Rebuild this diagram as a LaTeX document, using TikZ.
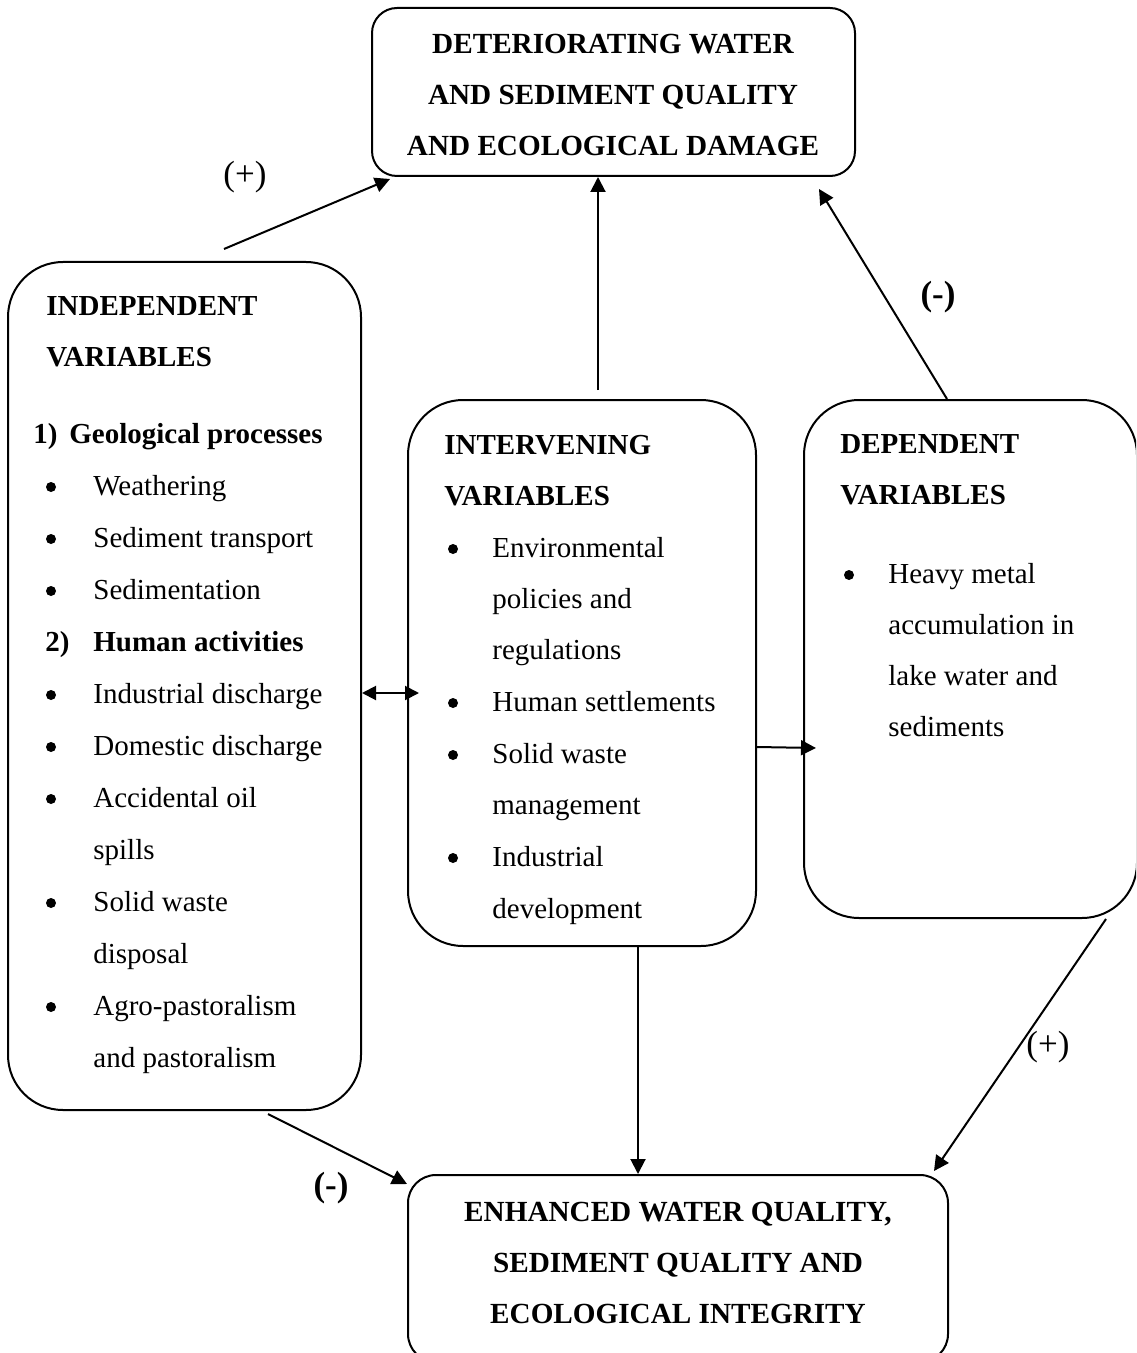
\documentclass[tikz,border=0pt]{standalone}
\usepackage{fontspec}
\setmainfont{Liberation Serif}
\usetikzlibrary{arrows.meta}
\begin{document}
\begin{tikzpicture}[x=0.5pt,y=-0.5pt,
  box/.style={draw, line width=1pt, inner sep=0pt, rounded corners=27.5pt},
  txt/.style={inner sep=0pt, anchor=base west, font=\fontsize{14.5pt}{17pt}\selectfont},
  ctxt/.style={inner sep=0pt, anchor=base, font=\fontsize{14.6pt}{17pt}\selectfont\bfseries},
  btxt/.style={txt, font=\fontsize{14.5pt}{17pt}\selectfont\bfseries},
  sgn/.style={inner sep=0pt, anchor=base, font=\fontsize{17.5pt}{20pt}\selectfont},
  bsgn/.style={sgn, font=\fontsize{17.5pt}{20pt}\selectfont\bfseries},
  bul/.style={circle, fill=black, inner sep=0pt, minimum size=5pt},
  arr/.style={line width=1pt, -{Triangle[length=7.5pt,width=7.5pt]}},
  darr/.style={line width=1pt, {Triangle[length=7pt,width=7pt]}-{Triangle[length=7pt,width=7pt]}}
]
\useasboundingbox (0,0) rectangle (1136,1353);
\begin{scope}
\clip (0,0) rectangle (1136,1353);
% boxes
\node[box, rounded corners=12.5pt, minimum width=241.5pt, minimum height=84pt] (top) at (613.5,92) {};
\node[box, minimum width=176.5pt, minimum height=424pt] (left) at (184.5,686) {};
\node[box, minimum width=174pt, minimum height=273pt] (mid) at (582,673) {};
\node[box, minimum width=166.5pt, minimum height=259pt] (right) at (970.5,659) {};
\node[box, rounded corners=14pt, minimum width=270pt, minimum height=93.5pt] (bot) at (678,1268.5) {};
\end{scope}

% top box text
\node[ctxt] (t1) at (613,54) {DETERIORATING WATER};
\node[ctxt] (t2) at (613,105) {AND SEDIMENT QUALITY};
\node[ctxt] (t3) at (613,156) {AND ECOLOGICAL DAMAGE};

% bottom box text
\node[ctxt] (b1) at (678,1221) {ENHANCED WATER QUALITY,};
\node[ctxt] (b2) at (678,1272) {SEDIMENT QUALITY AND};
\node[ctxt] (b3) at (678,1323) {ECOLOGICAL INTEGRITY};

% left box text
\node[btxt] (l1) at (46,315) {INDEPENDENT};
\node[btxt] (l2) at (46,366) {VARIABLES};
\node[btxt] (l3n) at (33,443) {1)};
\node[btxt] (l3) at (69,443) {Geological processes};
\node[bul] (lb4) at (51,487) {};
\node[txt] (l4) at (93,495) {Weathering};
\node[bul] (lb5) at (51,539) {};
\node[txt] (l5) at (93,547) {Sediment transport};
\node[bul] (lb6) at (51,591) {};
\node[txt] (l6) at (93,599) {Sedimentation};
\node[btxt] (l7n) at (45,651) {2)};
\node[btxt] (l7) at (93,651) {Human activities};
\node[bul] (lb8) at (51,695) {};
\node[txt] (l8) at (93,703) {Industrial discharge};
\node[bul] (lb9) at (51,747) {};
\node[txt] (l9) at (93,755) {Domestic discharge};
\node[bul] (lb10) at (51,799) {};
\node[txt] (l10) at (93,807) {Accidental oil};
\node[txt] (l11) at (93,859) {spills};
\node[bul] (lb12) at (51,903) {};
\node[txt] (l12) at (93,911) {Solid waste};
\node[txt] (l13) at (93,963) {disposal};
\node[bul] (lb14) at (51,1007) {};
\node[txt] (l14) at (93,1015) {Agro-pastoralism};
\node[txt] (l15) at (93,1067) {and pastoralism};

% middle box text
\node[btxt] (m1) at (444,454) {INTERVENING};
\node[btxt] (m2) at (444,505) {VARIABLES};
\node[bul] (mb3) at (453,549) {};
\node[txt] (m3) at (492,557) {Environmental};
\node[txt] (m4) at (492,608) {policies and};
\node[txt] (m5) at (492,659) {regulations};
\node[bul] (mb6) at (453,703) {};
\node[txt] (m6) at (492,711) {Human settlements};
\node[bul] (mb7) at (453,755) {};
\node[txt] (m7) at (492,763) {Solid waste};
\node[txt] (m8) at (492,814) {management};
\node[bul] (mb9) at (453,858) {};
\node[txt] (m9) at (492,866) {Industrial};
\node[txt] (m10) at (492,918) {development};

% right box text
\node[btxt] (r1) at (840,453) {DEPENDENT};
\node[btxt] (r2) at (840,504) {VARIABLES};
\node[bul] (rb3) at (849,575) {};
\node[txt] (r3) at (888,583) {Heavy metal};
\node[txt] (r4) at (888,634) {accumulation in};
\node[txt] (r5) at (888,685) {lake water and};
\node[txt] (r6) at (888,736) {sediments};

% sign labels
\node[sgn] (s1) at (245,186) {(+)};
\node[bsgn] (s2) at (938,306) {(-)};
\node[bsgn] (s3) at (331,1196) {(-)};
\node[sgn] (s4) at (1048,1055) {(+)};

% connectors
\coordinate (p1) at (224,249);
\coordinate (p2) at (598,390);
\coordinate (p3) at (819,189);
\draw[arr] (p1) -- ([xshift=9.5pt,yshift=-1pt]top.south west);
\draw[arr] (p2) -- (p2 |- top.south);
\draw[arr] ([xshift=-11.75pt]right.north) -- (p3);
\draw[darr] ([yshift=-3.5pt]left.east) -- ([xshift=6pt,yshift=-10pt]mid.west);
\draw[arr] ([yshift=-37pt]mid.east) -- ([xshift=6.5pt,yshift=-44.5pt]right.west);
\draw[arr] ([xshift=28pt]mid.south) -- ([xshift=-20pt]bot.north);
\draw[arr] ([xshift=41.75pt,yshift=-1.5pt]left.south) -- ([yshift=-5pt]bot.north west);
\draw[arr] ([xshift=-16pt]right.south east) -- ([xshift=-7.5pt,yshift=1.5pt]bot.north east);
\end{tikzpicture}
\end{document}
